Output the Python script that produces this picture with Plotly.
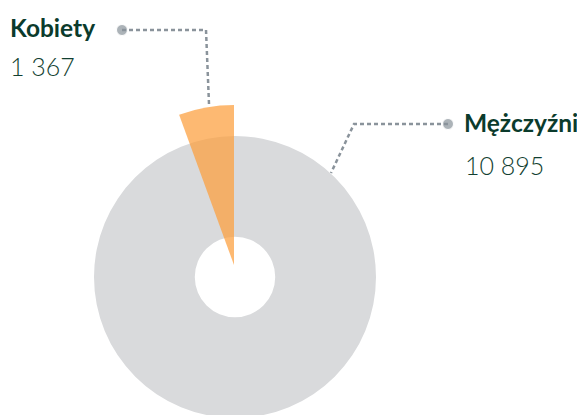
import plotly.graph_objects as go

# data
labels = ["Kobiety", "Mężczyźni"]
values = [1367, 10895]
value_text = ["1 367", "10 895"]

W, H = 585, 460
OFF = 8  # page body margin
total = sum(values)

GRAY = "#d9dadc"
ORANGE = "rgba(252, 158, 60, 0.72)"
DARK = "#0b3b2c"
NUM = "#123f31"
LINE = "#8a939b"


def dom(cx, cy, r):
    # pie domain from a centre/radius given in screen pixels
    fx, fy = cx - OFF, H - (cy - OFF)
    return dict(x=[(fx - r) / W, (fx + r) / W], y=[(fy - r) / H, (fy + r) / H])


fig = go.Figure()

# grey donut (men) - full ring
fig.add_trace(go.Pie(
    values=[values[1]],
    labels=[labels[1]],
    hole=0.285,
    marker=dict(colors=[GRAY], line=dict(width=0)),
    textinfo="none",
    hoverinfo="label+value",
    sort=False,
    showlegend=False,
    domain=dom(235, 277, 141),
))

# orange wedge (women) on a half circle scale, ending at 12 o'clock
fig.add_trace(go.Pie(
    values=[2 * total - values[0], values[0]],
    labels=["", labels[0]],
    marker=dict(colors=["rgba(0,0,0,0)", ORANGE], line=dict(width=0)),
    textinfo="none",
    hoverinfo="label+value",
    sort=False,
    direction="clockwise",
    rotation=0,
    showlegend=False,
    domain=dom(234, 265, 160),
))

# connector lines
fig.add_trace(go.Scatter(
    x=[122, 206, 209], y=[30, 30, 104],
    mode="lines+markers",
    line=dict(color=LINE, width=2.5, dash="4px,3px"),
    marker=dict(size=[11, 0, 0], color=LINE),
    hoverinfo="skip", showlegend=False,
))
fig.add_trace(go.Scatter(
    x=[448, 354, 331], y=[124, 124, 173],
    mode="lines+markers",
    line=dict(color=LINE, width=2.5, dash="4px,3px"),
    marker=dict(size=[11, 0, 0], color=LINE),
    hoverinfo="skip", showlegend=False,
))

label_pos = [(8, 27.5, 8, 66), (462, 122.5, 463, 165)]
for name, txt, (lx, ly, vx, vy) in zip(labels, value_text, label_pos):
    fig.add_annotation(x=lx, y=ly, text="<b>" + name + "</b>", showarrow=False,
                       xanchor="left", yanchor="middle",
                       font=dict(family="Lato", size=24.5, color=DARK))
    fig.add_annotation(x=vx, y=vy, text=txt, showarrow=False,
                       xanchor="left", yanchor="middle",
                       font=dict(family="Lato", size=25, color=NUM, weight=300))

fig.update_layout(
    width=W, height=H,
    margin=dict(l=0, r=0, t=0, b=0),
    paper_bgcolor="white",
    plot_bgcolor="rgba(0,0,0,0)",
    xaxis=dict(range=[OFF, OFF + W], visible=False, fixedrange=True),
    yaxis=dict(range=[OFF + H, OFF], visible=False, fixedrange=True),
)

fig.write_html("out.html")
